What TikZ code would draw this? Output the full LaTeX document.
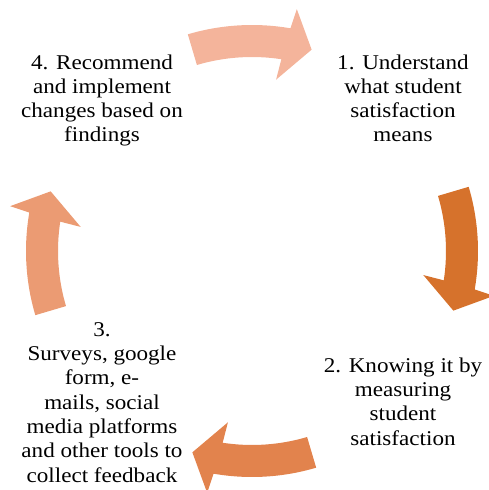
\documentclass[tikz,border=0pt]{standalone}
\usepackage{fontspec}
\setmainfont{Liberation Serif}[FakeStretch=1.1]
\definecolor{arrA}{HTML}{F4B49B}
\definecolor{arrB}{HTML}{D6722C}
\definecolor{arrC}{HTML}{E2834D}
\definecolor{arrD}{HTML}{EB9B73}
\tikzset{
  label text/.style={align=center, inner sep=0pt, anchor=base,
    font=\fontsize{21}{24.3}\selectfont},
}
\newcommand{\cyclearrow}[2]{%
  \fill[#2] (#1+16.5:226) arc[start angle=#1+16.5, end angle=#1-9.8, radius=226]
    -- (#1-10.5:246) -- (#1-16.5:210) -- (#1-8:173) -- (#1-8.7:194)
    arc[start angle=#1-8.7, end angle=#1+16.5, radius=194] -- cycle;}
\begin{document}
\begin{tikzpicture}[x=1pt,y=1pt]
\useasboundingbox (0,0) rectangle (488,490);
\begin{scope}[shift={(252,239)}]
  \cyclearrow{90}{arrA}
  \cyclearrow{0}{arrB}
  \cyclearrow{-90}{arrC}
  \cyclearrow{180}{arrD}
\end{scope}
\node[label text] (t1) at (403,348) {1. Understand\\what student\\satisfaction\\means};
\node[label text] (t2) at (403,45) {2. Knowing it by\\measuring\\student\\satisfaction};
\node[label text] (t3) at (102,8) {3.\\Surveys, google\\form, e-\\mails, social\\media platforms\\and other tools to\\collect feedback};
\node[label text] (t4) at (102,348) {4. Recommend\\and implement\\changes based on\\findings};
\end{tikzpicture}
\end{document}
